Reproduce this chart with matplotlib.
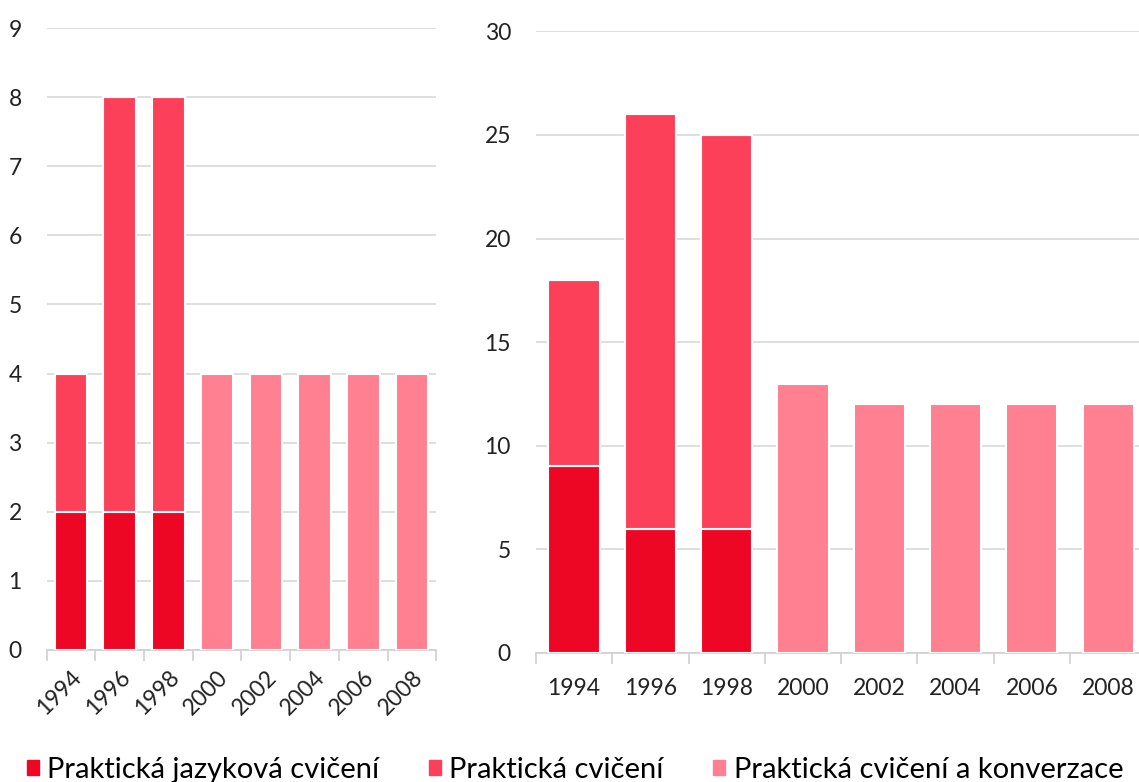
import matplotlib.pyplot as plt
import matplotlib.patches as mpatches
import numpy as np

plt.rcParams['font.family'] = ['Lato', 'DejaVu Sans']

years = ["1994", "1996", "1998", "2000", "2002", "2004", "2006", "2008"]
series_names = ["Praktická jazyková cvičení", "Praktická cvičení",
                "Praktická cvičení a konverzace"]
colors = ["#EE0625", "#FC4059", "#FF8090"]

# levý graf
left_jazykova = [2, 2, 2, 0, 0, 0, 0, 0]
left_cviceni = [2, 6, 6, 0, 0, 0, 0, 0]
left_konverzace = [0, 0, 0, 4, 4, 4, 4, 4]
left_ticks = list(range(0, 10))

# pravý graf
right_jazykova = [9, 6, 6, 0, 0, 0, 0, 0]
right_cviceni = [9, 20, 19, 0, 0, 0, 0, 0]
right_konverzace = [0, 0, 0, 13, 12, 12, 12, 12]
right_ticks = list(range(0, 31, 5))


def draw(ax, data, ticks, rotate):
    x = np.arange(len(years))
    bottom = np.zeros(len(years))
    for vals, c in zip(data, colors):
        vals = np.array(vals, dtype=float)
        ax.bar(x, vals, width=0.67, bottom=bottom, color=c,
               edgecolor="white", linewidth=1.5, zorder=3)
        bottom += vals
    ax.set_xlim(-0.5, len(years) - 0.5)
    ax.set_ylim(ticks[0], ticks[-1])
    ax.set_yticks(ticks)
    ax.yaxis.grid(True, color="#d9d9d9", linewidth=1.2, zorder=0)
    ax.set_axisbelow(True)
    for s in ["left", "right", "top"]:
        ax.spines[s].set_visible(False)
    ax.spines["bottom"].set_color("#d0d0d0")
    ax.spines["bottom"].set_linewidth(1.2)
    ax.tick_params(axis="y", length=0, labelsize=16.5, colors="#222222", pad=18)
    # tick marks mezi kategoriemi
    ax.set_xticks(np.arange(-0.5, len(years), 1.0), minor=False)
    ax.set_xticklabels([])
    ax.tick_params(axis="x", which="major", length=8, color="#d0d0d0", width=1.2)
    ax.set_xticks(x, minor=True)
    if rotate:
        ax.set_xticklabels(years, minor=True, rotation=45, ha="right",
                           rotation_mode="anchor", fontsize=16.5, color="#222222")
        ax.tick_params(axis="x", which="minor", length=0, pad=12)
    else:
        ax.set_xticklabels(years, minor=True, fontsize=16.5, color="#222222")
        ax.tick_params(axis="x", which="minor", length=0, pad=18)


fig = plt.figure(figsize=(11.39, 7.82), dpi=100)
ax1 = fig.add_axes([0.041, 0.169, 0.342, 0.795])
ax2 = fig.add_axes([0.4705, 0.165, 0.536, 0.795])

draw(ax1, [left_jazykova, left_cviceni, left_konverzace], left_ticks, True)
draw(ax2, [right_jazykova, right_cviceni, right_konverzace], right_ticks, False)

patches = [mpatches.Patch(color=c, label=n) for n, c in zip(series_names, colors)]
fig.legend(handles=patches, loc="lower center", bbox_to_anchor=(0.505, -0.035),
           ncol=3, frameon=False, fontsize=21, handlelength=0.4, handleheight=0.4,
           handletextpad=0.3, columnspacing=1.7)

fig.savefig("out.png", dpi=100)
